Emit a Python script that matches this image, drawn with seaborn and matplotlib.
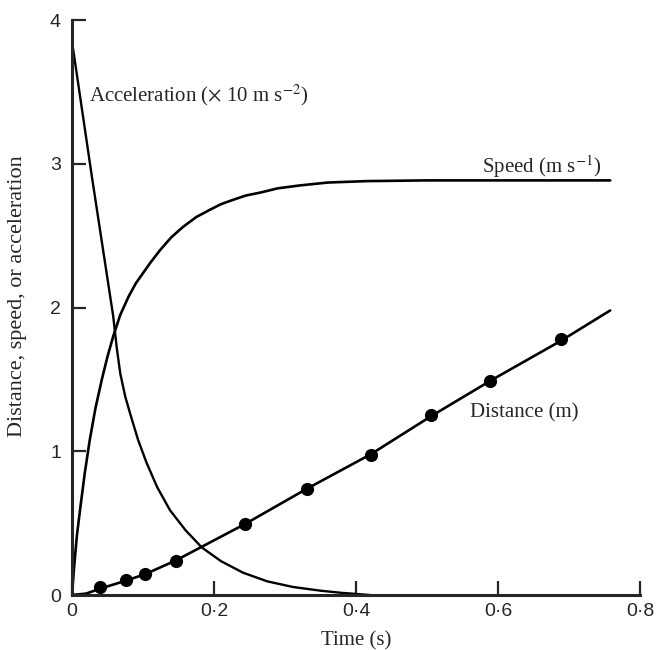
import matplotlib
matplotlib.use("Agg")
import matplotlib.pyplot as plt
import seaborn as sns

# distance measurements (dots) and fitted line
dist_t = [0.040, 0.076, 0.103, 0.146, 0.244, 0.331, 0.421, 0.506, 0.589, 0.689]
dist_d = [0.056, 0.105, 0.146, 0.237, 0.495, 0.74, 0.976, 1.25, 1.49, 1.78]
dist_line_t = [0.0, 0.02, 0.040, 0.076, 0.103, 0.146, 0.244, 0.331, 0.421, 0.506, 0.589, 0.689, 0.758]
dist_line_d = [0.0, 0.01, 0.045, 0.10, 0.145, 0.24, 0.495, 0.74, 0.98, 1.245, 1.49, 1.77, 1.98]

# speed curve (m/s)
speed_t = [0.0, 0.003, 0.007, 0.012, 0.018, 0.025, 0.033, 0.042, 0.05, 0.058, 0.068,
           0.08, 0.09, 0.1, 0.11, 0.124, 0.14, 0.156, 0.175, 0.194, 0.21, 0.227,
           0.245, 0.265, 0.29, 0.321, 0.36, 0.415, 0.5, 0.758]
speed_v = [0.0, 0.2, 0.42, 0.62, 0.85, 1.08, 1.30, 1.50, 1.66, 1.80, 1.95,
           2.08, 2.17, 2.24, 2.31, 2.40, 2.49, 2.56, 2.63, 2.68, 2.72, 2.75,
           2.78, 2.80, 2.83, 2.85, 2.87, 2.88, 2.885, 2.885]

# acceleration curve (x 10 m/s^2)
acc_t = [0.0, 0.0, 0.028, 0.058, 0.063, 0.068, 0.075, 0.082, 0.093, 0.105, 0.12,
         0.138, 0.16, 0.183, 0.21, 0.241, 0.275, 0.311, 0.35, 0.38, 0.42]
acc_a = [0.0, 3.85, 2.91, 1.94, 1.72, 1.54, 1.38, 1.26, 1.08, 0.92, 0.75,
         0.59, 0.45, 0.33, 0.235, 0.155, 0.095, 0.056, 0.03, 0.015, 0.0]

x_ticks = [0, 0.2, 0.4, 0.6, 0.8]
x_ticklabels = ["0", "0·2", "0·4", "0·6", "0·8"]
y_ticks = [0, 1, 2, 3, 4]

sns.set_style("ticks")
plt.rcParams["font.family"] = ["Liberation Serif", "DejaVu Serif"]
plt.rcParams["mathtext.fontset"] = "stix"

fig = plt.figure(figsize=(6.56, 6.5), dpi=100)
ax = fig.add_axes([0.1098, 0.0846, 0.9756 - 0.1098, 0.969 - 0.0846])

ink = "black"
sns.lineplot(x=acc_t, y=acc_a, estimator=None, sort=False, color=ink, lw=1.7, ax=ax)
sns.lineplot(x=speed_t, y=speed_v, estimator=None, sort=False, color=ink, lw=1.9, ax=ax)
sns.lineplot(x=dist_line_t, y=dist_line_d, estimator=None, sort=False, color=ink, lw=1.9, ax=ax)
sns.scatterplot(x=dist_t, y=dist_d, color=ink, s=90, edgecolor=ink, linewidth=0, ax=ax, zorder=3)

ax.set_xlim(0, 0.8)
ax.set_ylim(0, 4)
ax.set_xticks(x_ticks)
ax.set_xticklabels(x_ticklabels)
ax.set_yticks(y_ticks)
for s in ["top", "right"]:
    ax.spines[s].set_visible(False)
for s in ["left", "bottom"]:
    ax.spines[s].set_linewidth(2.2)
ax.tick_params(direction="in", length=10, width=1.6, labelsize=14)
ax.tick_params(axis="y", pad=8)
ax.tick_params(axis="x", pad=6)
for lab in ax.get_xticklabels() + ax.get_yticklabels():
    lab.set_fontfamily(["Liberation Sans", "DejaVu Sans"])

ax.set_xlabel("Time (s)", fontsize=15, labelpad=8)
ax.set_ylabel("Distance, speed, or acceleration", fontsize=16)
ax.yaxis.set_label_coords(-0.08, 0.52)

ax.text(0.024, 3.48, r"Acceleration ($\times$ 10 m s$^{-2}$)", fontsize=15, va="center", ha="left")
ax.text(0.577, 2.98, r"Speed (m s$^{-1}$)", fontsize=15, va="center", ha="left")
ax.text(0.560, 1.27, "Distance (m)", fontsize=15, va="center", ha="left")

fig.savefig("out.png", dpi=100)
